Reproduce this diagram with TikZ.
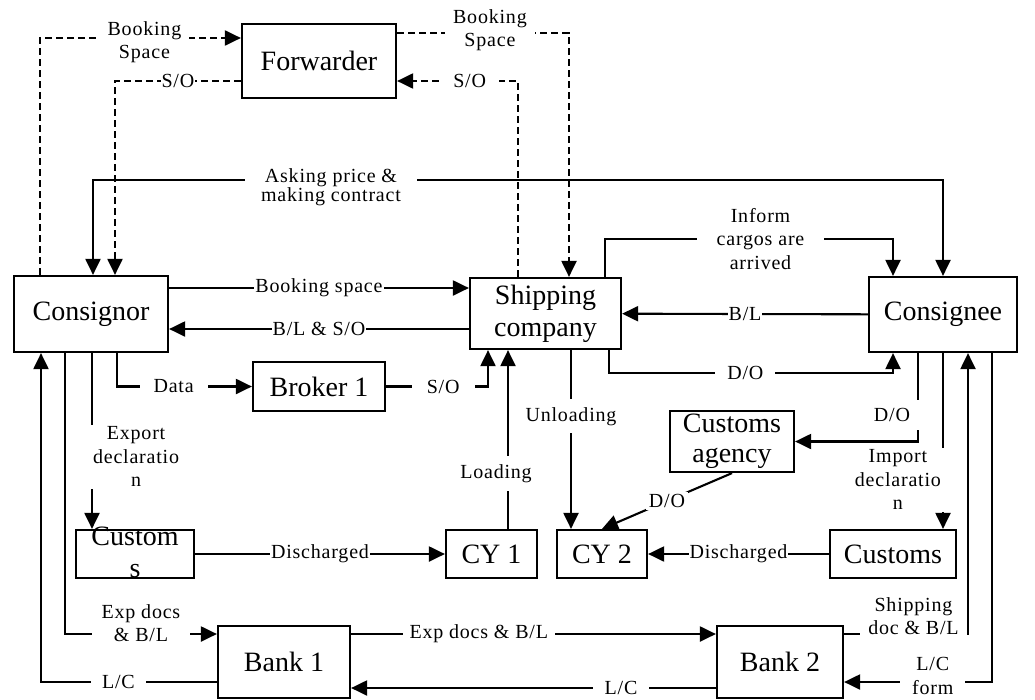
\documentclass[tikz,border=0pt]{standalone}
\usepackage{fontspec}
\setmainfont{Liberation Serif}
\newfontfamily\lblfont[LetterSpace=4]{Liberation Serif}
\usetikzlibrary{arrows.meta}

\begin{document}
\begin{tikzpicture}[
  x=1pt,
  y=-1pt,
  >={Triangle[length=16pt,width=15pt]},
  box/.style={
    draw,
    line width=2.2pt,
    inner sep=2pt,
    align=center,
    font=\fontsize{28}{32}\selectfont
  },
  link/.style={line width=2.1pt},
  dashlink/.style={link,dash pattern=on 7pt off 4pt},
  lbl/.style={
    fill=white,
    inner xsep=3pt,
    inner ysep=2pt,
    align=center,
    font=\lblfont\fontsize{20}{23.5}\selectfont
  }
]
\path[use as bounding box,fill=white] (0,0) rectangle (1035,699);

\node[box,minimum width=154pt,minimum height=74pt] (forwarder) at (319,61) {Forwarder};
\node[box,minimum width=154pt,minimum height=76pt] (consignor) at (91,314) {Consignor};
\node[box,minimum width=151pt,minimum height=71pt] (shipping) at (545.5,313.5) {Shipping\\company};
\node[box,minimum width=148pt,minimum height=75pt] (consignee) at (943,314.5) {Consignee};
\node[box,minimum width=132pt,minimum height=49pt] (broker) at (319,386.5) {Broker 1};
\node[box,minimum width=124pt,minimum height=61pt,font=\fontsize{28}{30}\selectfont] (agency) at (732,441.5) {Customs\\agency};
\node[box,minimum width=118pt,minimum height=48pt] (customsL) at (135,554)
  {\smash{\raisebox{-0.25em}{\begin{tabular}{@{}c@{}}Custom\\s\end{tabular}}}};
\node[box,minimum width=91pt,minimum height=48pt] (cy1) at (491.5,554) {CY 1};
\node[box,minimum width=90pt,minimum height=48pt] (cy2) at (602,554) {CY 2};
\node[box,minimum width=126pt,minimum height=48pt] (customsR) at (893,554) {Customs};
\node[box,minimum width=132pt,minimum height=72pt] (bank1) at (284,662) {Bank 1};
\node[box,minimum width=126pt,minimum height=72pt] (bank2) at (780,662) {Bank 2};

\draw[dashlink,->] (consignor.north -| 40,0) |- node[lbl,pos=0.76,yshift=-4pt,inner xsep=8pt] {Booking\\Space} (forwarder.west |- 0,38);
\draw[dashlink,->] (forwarder.west |- 0,81) -| node[lbl,pos=0.25,inner xsep=1pt] {S/O} (consignor.north -| 115,0);
\draw[dashlink,->] (forwarder.east |- 0,33) -| node[lbl,pos=0.27,yshift=3pt,inner xsep=8pt] {Booking\\Space} (shipping.north -| 569,0);
\draw[dashlink,->] (shipping.north -| 518,0) |- node[lbl,pos=0.7,inner xsep=13pt] {S/O} (forwarder.east |- 0,81);

\draw[link,<->] (consignor.north -| 93,0) |- node[lbl,pos=0.64,yshift=-7.5pt,inner xsep=16pt,font=\lblfont\fontsize{20}{18}\selectfont] {Asking price \&\\making contract} (consignee.north |- 0,180) -- (consignee.north);
\draw[link,->] (shipping.north -| 605,0) -- ++(0,-38) -| node[lbl,pos=0.27,inner xsep=20pt] {Inform\\cargos are\\arrived} (consignee.north -| 893,0);

\draw[link,->] (consignor.east |- 0,288) -- node[lbl,inner xsep=1pt] {Booking space} (shipping.west |- 0,288);
\draw[link,->] (shipping.west |- 0,329) -- node[lbl,inner xsep=1pt] {B/L \& S/O} (consignor.east |- 0,329);
\draw[link,->] (consignee) -- node[lbl,inner xsep=1pt] {B/L} (shipping);
\draw[link,->] (consignor.south -| 117,0) |- node[lbl,pos=0.71,inner xsep=14pt] {Data} (broker.west);
\draw[link,->] (broker.east) -| node[lbl,pos=0.28,inner xsep=15pt] {S/O} (shipping.south -| 488,0);
\draw[link,->] (shipping.south -| 609,0) -- ++(0,23) -| node[lbl,pos=0.24,inner xsep=12pt] {D/O} (consignee.south -| 893,0);

\draw[link,->] (shipping.south -| 571,0) -- node[lbl,pos=0.37,inner ysep=8pt] {Unloading} (cy2.north -| 571,0);
\draw[link,->] (cy1.north -| 508,0) -- node[lbl,pos=0.31,xshift=-12pt,inner ysep=8pt] {Loading} (shipping.south -| 508,0);
\draw[link,->] (consignee.south -| 918,0) |- node[lbl,pos=0.35,anchor=east,xshift=3pt,inner xsep=10pt,inner ysep=8pt] {D/O} (agency.east);
\draw[link,->] (consignee.south -| 943,0) -- node[lbl,pos=0.72,anchor=east,xshift=3pt,inner xsep=4pt] {Import\\declaratio\\n} (customsR.north -| 943,0);
\draw[link,->] (agency.south) -- node[lbl] {D/O} (cy2.north);
\draw[link,->] (consignor.south -| 92,0) -- node[lbl,pos=0.59,anchor=west,xshift=-3pt,inner xsep=3pt] {Export\\declaratio\\n} (customsL.north -| 92,0);

\draw[link,->] (customsL) -- node[lbl,inner xsep=1pt] {Discharged} (cy1);
\draw[link,->] (customsR) -- node[lbl,inner xsep=1pt] {Discharged} (cy2);

\draw[link,->] (consignor.south -| 65,0) |- node[lbl,pos=0.75,yshift=11pt,inner xsep=10pt] {Exp docs\\\& B/L} (bank1.west |- 0,634);
\draw[link,->] (bank1.west |- 0,682) -| node[lbl,pos=0.28,inner xsep=11pt] {L/C} (consignor.south -| 41,0);
\draw[link,->] (bank1.east |- 0,634) -- node[lbl,pos=0.35,inner xsep=7pt] {Exp docs \& B/L} (bank2.west |- 0,634);
\draw[link,->] (bank2.west |- 0,688) -- node[lbl,pos=0.26,inner xsep=12pt] {L/C} (bank1.east |- 0,688);
\draw[link,->] (bank2.east |- 0,634) -| node[lbl,pos=0.28,yshift=18pt,inner xsep=8pt] {Shipping\\doc \& B/L} (consignee.south -| 968,0);
\draw[link,->] (consignee.south -| 992,0) |- node[lbl,pos=0.7,yshift=6pt,inner xsep=12pt,inner ysep=1pt] {L/C\\form} (bank2.east |- 0,682);
\end{tikzpicture}
\end{document}
